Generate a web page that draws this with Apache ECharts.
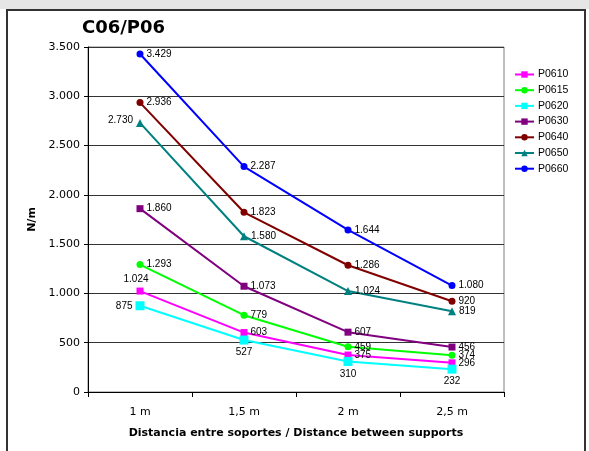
<!DOCTYPE html>
<html><head><meta charset="utf-8">
<script src="https://cdn.jsdelivr.net/npm/echarts@6/dist/echarts.min.js"></script>
<style>html,body{margin:0;padding:0;background:#fff}#c{width:589px;height:451px}</style>
</head><body><div id="c"></div>
<script>
var categories = ['1 m', '1,5 m', '2 m', '2,5 m'];
var seriesNames = ['P0610', 'P0615', 'P0620', 'P0630', 'P0640', 'P0650', 'P0660'];
var P0610 = [1024, 603, 375, 296];
var P0615 = [1293, 779, 459, 374];
var P0620 = [875, 527, 310, 232];
var P0630 = [1860, 1073, 607, 456];
var P0640 = [2936, 1823, 1286, 920];
var P0650 = [2730, 1580, 1024, 819];
var P0660 = [3429, 2287, 1644, 1080];
var yTicks = [0, 500, 1000, 1500, 2000, 2500, 3000, 3500];

function fmt(v){ return String(v).replace(/\B(?=(\d{3})+(?!\d))/g, '.'); }

var styles = {
  P0610: {color:'#ff00ff', symbol:'rect', size:7, pos:['top','right','right','right']},
  P0615: {color:'#00ff00', symbol:'circle', size:7, pos:['right','right','right','right']},
  P0620: {color:'#00ffff', symbol:'rect', size:9, pos:['left','bottom','bottom','bottom']},
  P0630: {color:'#800080', symbol:'rect', size:7, pos:['right','right','right','right']},
  P0640: {color:'#800000', symbol:'circle', size:7, pos:['right','right','right','right']},
  P0650: {color:'#008080', symbol:'triangle', size:8, pos:['left','right','right','right']},
  P0660: {color:'#0000ff', symbol:'circle', size:7, pos:['right','right','right','right']}
};
var values = {P0610:P0610, P0615:P0615, P0620:P0620, P0630:P0630, P0640:P0640, P0650:P0650, P0660:P0660};

var FONT = 'DejaVu Sans, Verdana, sans-serif';
var LFONT = 'Liberation Sans, Arial, sans-serif';

var series = seriesNames.map(function(n){
  var s = styles[n];
  return {
    name: n, type: 'line', symbol: s.symbol, symbolSize: s.size,
    itemStyle: {color: s.color},
    lineStyle: {color: s.color, width: 2},
    data: values[n].map(function(v, i){
      var p = s.pos[i];
      var lab = {position: p};
      if (p === 'left' && n === 'P0650') lab.offset = [0, -3];
      if (p === 'top') lab.offset = [-4, 0];
      return {value: v, label: lab};
    }),
    label: {show: true, formatter: function(p){ return fmt(p.value); }, color:'#000', fontSize: 10, fontFamily: LFONT, distance: 3},
    animation: false
  };
});

var chart = echarts.init(document.getElementById('c'));
chart.setOption({
  animation: false,
  graphic: [
    {type:'rect', shape:{x:0,y:0,width:589,height:9}, style:{fill:'#e6e6e6'}, z:-10},
    {type:'rect', shape:{x:7,y:10,width:578,height:460}, style:{fill:'none', stroke:'#333', lineWidth:2}, z:-10}
  ],
  title: {text:'C06/P06', left: 82, top: 19, padding: 0, textStyle:{fontSize:18, fontWeight:'bold', fontFamily: FONT, color:'#000'}},
  legend: {
    orient:'vertical', left: 514, top: 69, padding: 0, itemGap: 4.7, itemWidth: 19, itemHeight: 8,
    textStyle:{fontSize:10.5, fontFamily: LFONT, color:'#000', padding:[0,0,0,-1]},
    data: seriesNames
  },
  grid: {left: 88, top: 47, width: 416, height: 345, show: true, borderColor:'#808080', borderWidth: 1, backgroundColor:'#fff'},
  xAxis: {
    type:'category', data: categories, boundaryGap: true,
    name:'Distancia entre soportes / Distance between supports', nameLocation:'middle', nameGap: 36,
    nameTextStyle:{fontSize:11, fontWeight:'bold', fontFamily: FONT, color:'#000'},
    axisLine:{lineStyle:{color:'#000', width:1}},
    axisTick:{show:true, length:5, lineStyle:{color:'#000'}},
    axisLabel:{fontSize:11, fontFamily: FONT, color:'#000', margin: 15}
  },
  yAxis: {
    type:'value', min: yTicks[0], max: yTicks[yTicks.length-1], interval: 500,
    name:'N/m', nameLocation:'middle', nameGap: 50, nameRotate: 90,
    nameTextStyle:{fontSize:11, fontWeight:'bold', fontFamily: FONT, color:'#000'},
    axisLine:{show:true, lineStyle:{color:'#000', width:1}},
    axisTick:{show:true, length:4, lineStyle:{color:'#000'}},
    axisLabel:{fontSize:11, fontFamily: FONT, color:'#000', margin: 8, formatter: function(v){ return fmt(v); }},
    splitLine:{show:true, lineStyle:{color:'#333', width:1}}
  },
  series: series
});
</script></body></html>
